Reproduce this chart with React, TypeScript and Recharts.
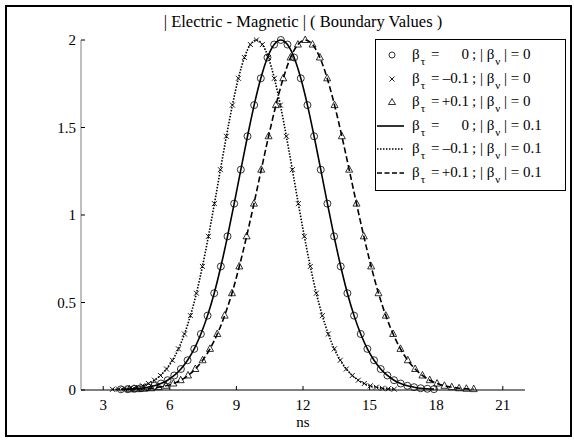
import { LineChart, Line, XAxis, YAxis } from "recharts"

// time samples (ns) for each curve
const tZero = [3.8, 4.1, 4.4, 4.7, 5.0, 5.3, 5.6, 5.9, 6.2, 6.5, 6.8, 7.1, 7.4, 7.7, 8.0, 8.3, 8.6, 8.9, 9.2, 9.5, 9.8, 10.1, 10.4, 10.7, 11.0, 11.3, 11.6, 11.9, 12.2, 12.5, 12.8, 13.1, 13.4, 13.7, 14.0, 14.3, 14.6, 14.9, 15.2, 15.5, 15.8, 16.1, 16.4, 16.7, 17.0, 17.3, 17.6, 17.9]
const tMinus = [3.42, 3.69, 3.96, 4.23, 4.5, 4.77, 5.04, 5.31, 5.58, 5.85, 6.12, 6.39, 6.66, 6.93, 7.2, 7.47, 7.74, 8.01, 8.28, 8.55, 8.82, 9.09, 9.36, 9.63, 9.9, 10.17, 10.44, 10.71, 10.98, 11.25, 11.52, 11.79, 12.06, 12.33, 12.6, 12.87, 13.14, 13.41, 13.68, 13.95, 14.22, 14.49, 14.76, 15.03, 15.3, 15.57, 15.84, 16.11]
const tPlus = [4.18, 4.51, 4.84, 5.17, 5.5, 5.83, 6.16, 6.49, 6.82, 7.15, 7.48, 7.81, 8.14, 8.47, 8.8, 9.13, 9.46, 9.79, 10.12, 10.45, 10.78, 11.11, 11.44, 11.77, 12.1, 12.43, 12.76, 13.09, 13.42, 13.75, 14.08, 14.41, 14.74, 15.07, 15.4, 15.73, 16.06, 16.39, 16.72, 17.05, 17.38, 17.71, 18.04, 18.37, 18.7, 19.03, 19.36, 19.69]

// same pulse amplitude read at each sample
const pulse = [0.004, 0.005, 0.007, 0.01, 0.016, 0.024, 0.037, 0.056, 0.083, 0.12, 0.17, 0.235, 0.32, 0.425, 0.553, 0.706, 0.878, 1.065, 1.259, 1.45, 1.628, 1.781, 1.9, 1.974, 2.0, 1.974, 1.9, 1.781, 1.628, 1.45, 1.259, 1.065, 0.878, 0.706, 0.553, 0.425, 0.32, 0.235, 0.17, 0.12, 0.083, 0.056, 0.037, 0.024, 0.016, 0.01, 0.007, 0.005]

const xTicks = [3, 6, 9, 12, 15, 18, 21]
const yTicks = [0, 0.5, 1, 1.5, 2]
const legendValues = ["0", "\u20130.1", "+0.1", "0", "\u20130.1", "+0.1"]
const legendNu = ["0", "0", "0", "0.1", "0.1", "0.1"]

const FONT = "'Liberation Serif', 'Times New Roman', serif"

const toPoints = (t: number[], v: number[]) => t.map((x, i) => ({ x, y: v[i] }))
const zeroData = toPoints(tZero, pulse)
const minusData = toPoints(tMinus, pulse)
const plusData = toPoints(tPlus, pulse)

const XTick = (props: any) => {
  const { x, y, payload } = props
  return (
    <g>
      <line x1={x} x2={x} y1={y} y2={y - 4} stroke="#000" />
      <text x={x} y={y + 20} textAnchor="middle" fontSize={15} fontFamily={FONT} fill="#000">
        {payload.value}
      </text>
    </g>
  )
}

const YTick = (props: any) => {
  const { x, y, payload } = props
  return (
    <g>
      <line x1={x} x2={x + 4} y1={y} y2={y} stroke="#000" />
      <text x={x - 5} y={y + 5} textAnchor="end" fontSize={15} fontFamily={FONT} fill="#000">
        {payload.value}
      </text>
    </g>
  )
}

const circleDot = (p: any) => (
  <circle key={`o-${p.index}`} cx={p.cx} cy={p.cy} r={3.5} fill="none" stroke="#000" strokeWidth={0.8} />
)
const crossDot = (p: any) => (
  <path key={`x-${p.index}`} d={`M${p.cx - 2.5},${p.cy - 2.5}L${p.cx + 2.5},${p.cy + 2.5}M${p.cx - 2.5},${p.cy + 2.5}L${p.cx + 2.5},${p.cy - 2.5}`} stroke="#000" strokeWidth={0.9} fill="none" />
)
const triDot = (p: any) => (
  <path key={`t-${p.index}`} d={`M${p.cx},${p.cy - 4}L${p.cx + 3.5},${p.cy + 2.5}L${p.cx - 3.5},${p.cy + 2.5}Z`} stroke="#000" strokeWidth={0.8} fill="none" />
)

function LegendRow({ i }: { i: number }) {
  const top = 55 + i * 23.6
  let sample: any = null
  if (i === 0) sample = <svg width="12" height="12" style={{ position: "absolute", left: 386, top: top - 6 }}><circle cx="6" cy="6" r="3" fill="none" stroke="#000" strokeWidth="0.8" /></svg>
  if (i === 1) sample = <svg width="12" height="12" style={{ position: "absolute", left: 386, top: top - 6 }}><path d="M3.5,3.5L8.5,8.5M3.5,8.5L8.5,3.5" stroke="#000" strokeWidth="0.9" /></svg>
  if (i === 2) sample = <svg width="12" height="12" style={{ position: "absolute", left: 386, top: top - 6 }}><path d="M6,2.5L9.5,8.5L2.5,8.5Z" fill="none" stroke="#000" strokeWidth="0.8" /></svg>
  if (i >= 3) {
    const dash = i === 3 ? undefined : i === 4 ? "1.5 1.5" : "5 2.5"
    sample = <svg width="28" height="6" style={{ position: "absolute", left: 377, top: top - 3 }}><line x1="0" x2="27" y1="3" y2="3" stroke="#000" strokeWidth="1.6" strokeDasharray={dash} /></svg>
  }
  const txt: any = { position: "absolute", top: top - 10, fontSize: 15, lineHeight: "18px", whiteSpace: "nowrap" }
  const sub: any = { fontSize: 11, position: "relative", top: 6, marginLeft: 1 }
  return (
    <>
      {sample}
      <span style={{ ...txt, left: 412 }}>β<span style={sub}>τ</span></span>
      <span style={{ ...txt, left: 431 }}>=</span>
      <span style={{ ...txt, left: 440, width: 29, textAlign: "right" }}>{legendValues[i]}</span>
      <span style={{ ...txt, left: 472 }}>; | β<span style={sub}>ν</span> | = {legendNu[i]}</span>
    </>
  )
}

export default function App() {
  return (
    <div style={{ position: "absolute", left: 0, top: 0, width: 574, height: 440, background: "#fff", fontFamily: FONT, color: "#000" }}>
      <div style={{ position: "absolute", left: 5, top: 5, width: 567, height: 432, border: "2px solid #000", boxSizing: "border-box" }} />
      <div style={{ position: "absolute", left: 103, width: 400, top: 12, textAlign: "center", fontSize: 16.5, lineHeight: "20px" }}>
        | Electric - Magnetic | ( Boundary Values )
      </div>
      <div style={{ position: "absolute", left: 0, top: 0 }}>
        <LineChart width={574} height={440} margin={{ top: 40, right: 49, bottom: 20, left: 41 }}>
          <XAxis
            type="number"
            dataKey="x"
            domain={[2, 22]}
            ticks={xTicks}
            allowDataOverflow
            height={30}
            tickSize={0}
            tickMargin={0}
            tick={<XTick />}
            axisLine={{ stroke: "#000" }}
          />
          <YAxis
            type="number"
            domain={[0, 2]}
            ticks={yTicks}
            width={40}
            tickSize={0}
            tickMargin={0}
            tick={<YTick />}
            axisLine={{ stroke: "#808080" }}
          />
          <Line data={zeroData} dataKey="y" type="monotone" stroke="#000" strokeWidth={1.6} dot={circleDot} isAnimationActive={false} />
          <Line data={minusData} dataKey="y" type="monotone" stroke="#000" strokeWidth={1.6} strokeDasharray="1.5 1.5" dot={crossDot} isAnimationActive={false} />
          <Line data={plusData} dataKey="y" type="monotone" stroke="#000" strokeWidth={1.6} strokeDasharray="6 3" dot={triDot} isAnimationActive={false} />
        </LineChart>
      </div>
      <div style={{ position: "absolute", left: 375, top: 39, width: 191, height: 152, border: "1px solid #000", background: "#fff", boxSizing: "border-box" }} />
      {legendValues.map((_, i) => (
        <LegendRow key={i} i={i} />
      ))}
      <div style={{ position: "absolute", left: 283, width: 40, top: 413, textAlign: "center", fontSize: 15, lineHeight: "18px" }}>ns</div>
    </div>
  )
}
